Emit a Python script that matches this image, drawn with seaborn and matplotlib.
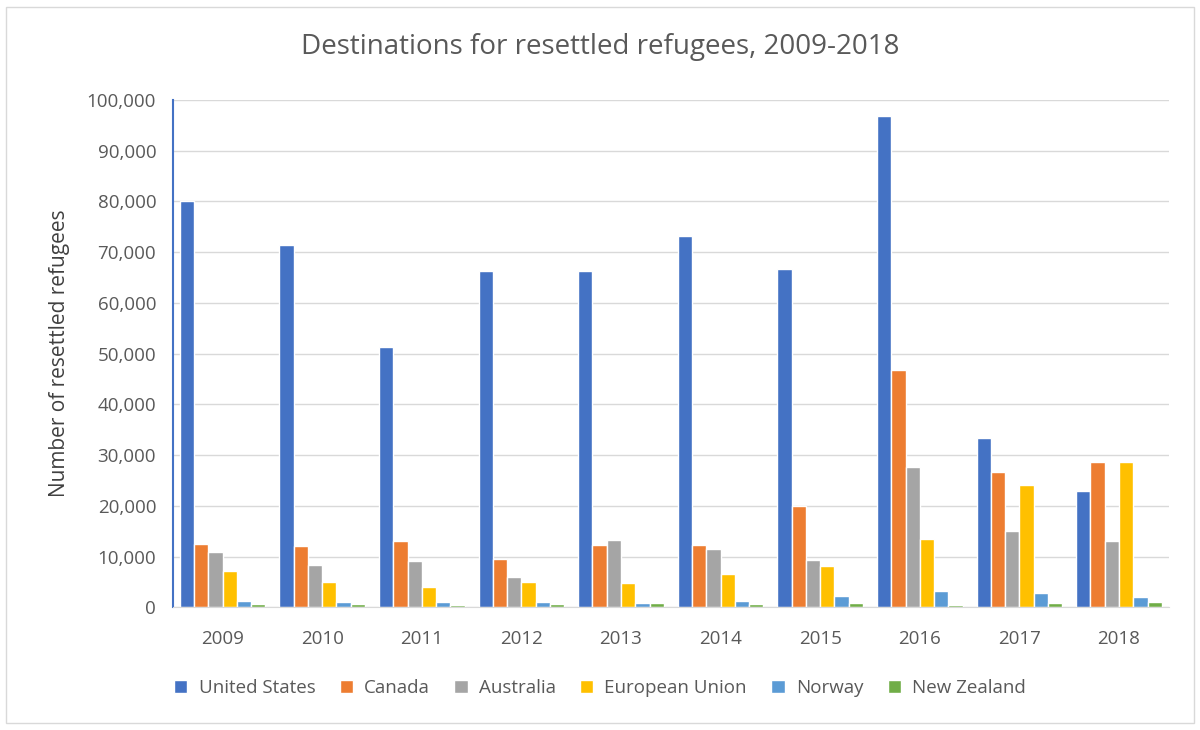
import matplotlib
matplotlib.use("Agg")
import matplotlib.pyplot as plt
import seaborn as sns
import pandas as pd
from matplotlib.patches import Rectangle

years = ["2009","2010","2011","2012","2013","2014","2015","2016","2017","2018"]
united_states = [80000,71400,51400,66300,66300,73100,66600,96900,33400,22900]
canada = [12500,12000,13000,9600,12200,12300,20000,46700,26600,28700]
australia = [11000,8400,9200,6000,13200,11600,9400,27700,15100,13000]
european_union = [7200,5000,4000,5000,4800,6500,8200,13500,24100,28700]
norway = [1300,1100,1100,1100,900,1300,2300,3300,2800,2000]
new_zealand = [700,600,500,700,800,600,800,400,900,1100]
series = ["United States","Canada","Australia","European Union","Norway","New Zealand"]
colors = ["#4472C4","#ED7D31","#A5A5A5","#FFC000","#5B9BD5","#70AD47"]

rows = []
for s, vals in zip(series, [united_states, canada, australia, european_union, norway, new_zealand]):
    for y, v in zip(years, vals):
        rows.append({"Year": y, "Country": s, "Value": v})
df = pd.DataFrame(rows)

sns.set_style("white")
plt.rcParams['font.family'] = ['Open Sans', 'DejaVu Sans']
fig = plt.figure(figsize=(12, 7.3), dpi=100)
ax = fig.add_axes([0.144, 0.168, 0.83, 0.695])
sns.barplot(data=df, x="Year", y="Value", hue="Country", palette=colors,
            hue_order=series, order=years, ax=ax, width=0.86, saturation=1)
ax.set_ylim(0, 100000)
ax.set_yticks(range(0, 100001, 10000))
ax.set_yticklabels([f"{v:,}" for v in range(0, 100001, 10000)])
ax.yaxis.grid(True, color="#D9D9D9", linewidth=1)
ax.set_axisbelow(True)
for sp in ["top", "right"]:
    ax.spines[sp].set_visible(False)
ax.spines["left"].set_color("#4472C4")
ax.spines["left"].set_linewidth(1.5)
ax.spines["bottom"].set_color("#D9D9D9")
ax.tick_params(axis="y", colors="#595959", labelsize=13.5, length=0, pad=12)
ax.tick_params(axis="x", colors="#595959", labelsize=13.5, length=0, pad=16)
ax.set_xlabel("")
ax.set_ylabel("Number of resettled refugees", fontsize=15, color="#404040", labelpad=12)
ax.get_legend().remove()
fig.suptitle("Destinations for resettled refugees, 2009-2018", fontsize=20, color="#595959", x=0.5, y=0.955)
handles, labels = ax.get_legend_handles_labels()
fig.legend(handles, labels, loc="center", bbox_to_anchor=(0.5, 0.058), ncol=6, frameon=False,
           fontsize=13.5, labelcolor="#595959", handlelength=0.7, handleheight=0.7,
           columnspacing=1.3, handletextpad=0.6)
fig.patches.append(Rectangle((0.005, 0.01), 0.99, 0.98, transform=fig.transFigure,
                             fill=False, edgecolor="#D9D9D9", linewidth=1))
fig.savefig("out.png", dpi=100)
